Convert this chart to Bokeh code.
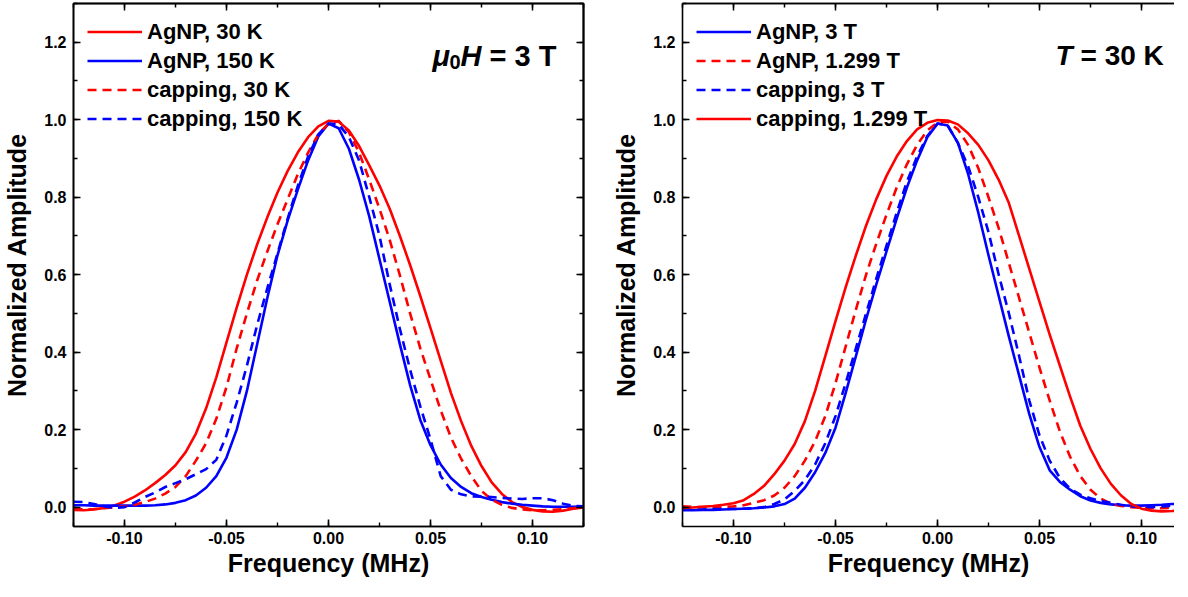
from bokeh.plotting import figure
from bokeh.models import (Range1d, LinearAxis, FixedTicker, NumeralTickFormatter,
                          Label, Legend, LegendItem)
from bokeh.layouts import row
from bokeh.embed import file_html
from bokeh.resources import INLINE

# ---------------- data ----------------
FREQ = [-0.125, -0.120, -0.115, -0.110, -0.105, -0.100, -0.095, -0.090, -0.085, -0.080,
        -0.075, -0.070, -0.065, -0.060, -0.055, -0.050, -0.045, -0.040, -0.035, -0.030,
        -0.025, -0.020, -0.015, -0.010, -0.005, 0.000, 0.005, 0.010, 0.015, 0.020,
        0.025, 0.030, 0.035, 0.040, 0.045, 0.050, 0.055, 0.060, 0.065, 0.070,
        0.075, 0.080, 0.085, 0.090, 0.095, 0.100, 0.105, 0.110, 0.115, 0.120, 0.125]

# panel a  (mu0H = 3 T)
A_AGNP_30K = [-0.007, -0.008, -0.006, -0.002, 0.004, 0.014, 0.027, 0.043, 0.062, 0.083,
              0.108, 0.142, 0.190, 0.255, 0.335, 0.425, 0.515, 0.600, 0.678, 0.748,
              0.812, 0.868, 0.916, 0.955, 0.983, 0.997, 0.995, 0.972, 0.932, 0.882,
              0.830, 0.770, 0.700, 0.625, 0.545, 0.462, 0.378, 0.295, 0.222, 0.158,
              0.106, 0.064, 0.034, 0.013, 0.000, -0.007, -0.011, -0.012, -0.009, -0.004, -0.001]
A_AGNP_150K = [0.005, 0.005, 0.004, 0.004, 0.004, 0.004, 0.004, 0.004, 0.005, 0.007,
               0.011, 0.018, 0.030, 0.050, 0.080, 0.128, 0.200, 0.300, 0.420, 0.540,
               0.650, 0.740, 0.820, 0.895, 0.957, 0.990, 0.978, 0.925, 0.845, 0.750,
               0.640, 0.530, 0.420, 0.315, 0.225, 0.160, 0.110, 0.075, 0.052, 0.036,
               0.026, 0.019, 0.013, 0.009, 0.006, 0.004, 0.002, 0.001, 0.001, 0.001, 0.002]
A_CAP_30K = [-0.005, -0.006, -0.005, -0.003, 0.000, 0.002, 0.006, 0.013, 0.022, 0.035,
             0.052, 0.080, 0.120, 0.165, 0.228, 0.310, 0.410, 0.500, 0.585, 0.660,
             0.730, 0.795, 0.860, 0.915, 0.962, 0.990, 0.997, 0.968, 0.915, 0.845,
             0.770, 0.690, 0.598, 0.500, 0.410, 0.330, 0.250, 0.180, 0.125, 0.080,
             0.042, 0.019, 0.006, -0.002, -0.006, -0.008, -0.008, -0.007, -0.005, -0.003, -0.001]
A_CAP_150K = [0.014, 0.013, 0.008, 0.002, -0.002, 0.000, 0.012, 0.026, 0.038, 0.052,
              0.062, 0.072, 0.085, 0.098, 0.122, 0.185, 0.270, 0.365, 0.470, 0.565,
              0.655, 0.745, 0.830, 0.905, 0.962, 0.990, 0.988, 0.955, 0.895, 0.800,
              0.700, 0.575, 0.460, 0.355, 0.260, 0.175, 0.080, 0.045, 0.033, 0.028,
              0.027, 0.026, 0.024, 0.022, 0.021, 0.023, 0.023, 0.018, 0.009, 0.003, 0.002]

# panel b  (T = 30 K)
B_AGNP_3T = [-0.008, -0.008, -0.007, -0.007, -0.006, -0.005, -0.004, -0.003, -0.001, 0.002,
             0.008, 0.022, 0.050, 0.090, 0.140, 0.205, 0.295, 0.390, 0.485, 0.575,
             0.660, 0.745, 0.825, 0.895, 0.955, 0.990, 0.985, 0.940, 0.860, 0.760,
             0.650, 0.545, 0.440, 0.340, 0.240, 0.155, 0.095, 0.065, 0.045, 0.028,
             0.017, 0.011, 0.007, 0.005, 0.004, 0.004, 0.005, 0.006, 0.008, 0.009, 0.010]
B_AGNP_1299T = [0.002, 0.001, 0.000, 0.000, 0.001, 0.002, 0.005, 0.011, 0.018, 0.030,
                0.050, 0.080, 0.120, 0.170, 0.235, 0.320, 0.415, 0.510, 0.600, 0.680,
                0.755, 0.825, 0.885, 0.935, 0.972, 0.993, 0.995, 0.975, 0.935, 0.875,
                0.800, 0.720, 0.630, 0.540, 0.450, 0.360, 0.275, 0.195, 0.130, 0.080,
                0.045, 0.022, 0.009, 0.003, 0.000, -0.002, -0.003, -0.003, -0.002, -0.001, 0.000]
B_CAP_3T = [-0.006, -0.006, -0.006, -0.005, -0.005, -0.005, -0.004, -0.003, 0.000, 0.008,
            0.020, 0.042, 0.070, 0.110, 0.165, 0.235, 0.320, 0.410, 0.500, 0.590,
            0.675, 0.760, 0.840, 0.905, 0.958, 0.990, 0.985, 0.940, 0.880, 0.800,
            0.710, 0.600, 0.500, 0.390, 0.275, 0.185, 0.120, 0.075, 0.048, 0.032,
            0.023, 0.016, 0.011, 0.006, 0.002, 0.000, 0.000, 0.002, 0.003, 0.003, 0.004]
B_CAP_1299T = [-0.002, -0.001, 0.001, 0.003, 0.006, 0.010, 0.018, 0.034, 0.055, 0.085,
               0.120, 0.163, 0.222, 0.300, 0.390, 0.480, 0.568, 0.650, 0.727, 0.795,
               0.855, 0.905, 0.945, 0.975, 0.992, 0.999, 0.998, 0.988, 0.965, 0.935,
               0.895, 0.845, 0.785, 0.700, 0.615, 0.530, 0.445, 0.365, 0.285, 0.210,
               0.150, 0.100, 0.060, 0.030, 0.008, -0.004, -0.009, -0.011, -0.010, -0.008, -0.006]

X_TICKS = [-0.10, -0.05, 0.0, 0.05, 0.10]
X_MINOR = [-0.125, -0.10, -0.075, -0.05, -0.025, 0.0, 0.025, 0.05, 0.075, 0.10, 0.125]
Y_TICKS = [0.0, 0.2, 0.4, 0.6, 0.8, 1.0, 1.2]
Y_MINOR = [-0.1, 0.0, 0.1, 0.2, 0.3, 0.4, 0.5, 0.6, 0.7, 0.8, 0.9, 1.0, 1.1, 1.2, 1.3]

RED = "#ff0000"
BLUE = "#0000ff"
FONT = "Liberation Sans"

# ---------------- layout constants ----------------
FRAME_H = 523
Y0, Y1 = -0.05, 1.3
TOP_BORDER = 3


def style_axis(ax):
    ax.axis_line_color = "black"
    ax.axis_line_width = 1.6
    ax.major_tick_line_color = "black"
    ax.major_tick_line_width = 1.6
    ax.minor_tick_line_color = "black"
    ax.minor_tick_line_width = 1.4
    ax.major_tick_in = 7
    ax.major_tick_out = 0
    ax.minor_tick_in = 4
    ax.minor_tick_out = 0
    ax.major_label_text_font = FONT
    ax.major_label_text_font_style = "bold"
    ax.major_label_text_font_size = "16px"
    ax.major_label_text_color = "black"
    ax.axis_label_text_font = FONT
    ax.axis_label_text_font_style = "bold"
    ax.axis_label_text_font_size = "25px"
    ax.axis_label_text_color = "black"


def mirror_axis(p, place, major, minor):
    # tick-only mirror axes (no labels): major positions drawn as long ticks,
    # minor positions as short ticks
    for pos, length in ((major, 7), (minor, 4)):
        ax = LinearAxis(ticker=FixedTicker(ticks=[], minor_ticks=pos))
        ax.axis_line_color = "black"
        ax.axis_line_width = 1.6
        ax.minor_tick_line_color = "black"
        ax.minor_tick_line_width = 1.5
        ax.minor_tick_in = length
        ax.minor_tick_out = 0
        ax.major_tick_in = 0
        ax.major_tick_out = 0
        ax.major_label_standoff = 0
        ax.axis_label_standoff = 0
        p.add_layout(ax, place)


def make_panel(x_end, frame_w, left_border, right_border, mirror_right):
    p = figure(frame_width=frame_w, frame_height=FRAME_H,
               x_range=Range1d(-0.125, x_end), y_range=Range1d(Y0, Y1),
               output_backend="svg", toolbar_location=None,
               min_border_left=left_border, min_border_right=right_border,
               min_border_top=TOP_BORDER, min_border_bottom=0)
    p.xgrid.visible = False
    p.ygrid.visible = False
    p.background_fill_color = "white"
    p.border_fill_color = "white"
    p.outline_line_color = "black" if mirror_right else None
    p.outline_line_width = 1.6

    xa = p.xaxis[0]
    xa.ticker = FixedTicker(ticks=X_TICKS, minor_ticks=X_MINOR)
    xa.formatter = NumeralTickFormatter(format="0.00")
    xa.axis_label = "Frequency (MHz)"
    style_axis(xa)
    xa.major_label_standoff = 5
    xa.axis_label_standoff = 2

    ya = p.yaxis[0]
    ya.ticker = FixedTicker(ticks=Y_TICKS, minor_ticks=Y_MINOR)
    ya.formatter = NumeralTickFormatter(format="0.0")
    ya.axis_label = "Normalized Amplitude"
    style_axis(ya)
    ya.major_label_standoff = 7
    ya.axis_label_standoff = 10

    mirror_axis(p, "above", X_TICKS, X_MINOR)
    if mirror_right:
        mirror_axis(p, "right", Y_TICKS, Y_MINOR)
    return p


def add_lines(p, series):
    items = []
    for label, ys, color, dash in series:
        r = p.line(FREQ, ys, line_color=color, line_width=2.6,
                   line_dash=dash, line_join="round")
        items.append(LegendItem(label=label, renderers=[r]))
    lg = Legend(items=items, location="top_left")
    lg.label_text_font = FONT
    lg.label_text_font_style = "bold"
    lg.label_text_font_size = "22px"
    lg.label_text_color = "black"
    lg.glyph_width = 55
    lg.glyph_height = 29
    lg.label_height = 29
    lg.label_standoff = 5
    lg.spacing = 0
    lg.padding = 0
    lg.margin = 14
    lg.background_fill_alpha = 0
    lg.border_line_alpha = 0
    p.add_layout(lg)


def add_text(p, frame_left, xscale, px, py, text, size, style="bold",
             align="left", baseline="alphabetic"):
    x = -0.125 + (px - frame_left) / xscale
    y = Y1 - (py - (8 + TOP_BORDER)) / (FRAME_H / (Y1 - Y0))
    p.add_layout(Label(x=x, y=y, text=text, text_font=FONT, text_font_style=style,
                       text_font_size=size, text_color="black",
                       text_align=align, text_baseline=baseline))


# ---------------- panel a ----------------
A_LEFT = 70
A_FRAME_W = 510
pa = make_panel(0.125, A_FRAME_W, A_LEFT, 12, True)
add_lines(pa, [
    ("AgNP, 30 K", A_AGNP_30K, RED, "solid"),
    ("AgNP, 150 K", A_AGNP_150K, BLUE, "solid"),
    ("capping, 30 K", A_CAP_30K, RED, "9 6"),
    ("capping, 150 K", A_CAP_150K, BLUE, "9 6"),
])
a_fl = 8 + A_LEFT
a_sc = A_FRAME_W / 0.25
add_text(pa, a_fl, a_sc, 22, 56, "a", "39px", align="center", baseline="middle")
add_text(pa, a_fl, a_sc, 437, 63, "μ", "29px", style="bold italic")
add_text(pa, a_fl, a_sc, 454, 69, "0", "20px")
add_text(pa, a_fl, a_sc, 465, 63, "H", "29px", style="bold italic")
add_text(pa, a_fl, a_sc, 494, 63, "= 3 T", "29px")

# ---------------- panel b ----------------
B_LEFT = 87
B_FRAME_W = 492
b_sc = a_sc
B_XEND = -0.125 + B_FRAME_W / b_sc
pb = make_panel(B_XEND, B_FRAME_W, B_LEFT, 0, False)
add_lines(pb, [
    ("AgNP, 3 T", B_AGNP_3T, BLUE, "solid"),
    ("AgNP, 1.299 T", B_AGNP_1299T, RED, "9 6"),
    ("capping, 3 T", B_CAP_3T, BLUE, "9 6"),
    ("capping, 1.299 T", B_CAP_1299T, RED, "solid"),
])
b_fl = 600 + B_LEFT
add_text(pb, b_fl, b_sc, 632, 56, "b", "39px", align="center", baseline="middle")
add_text(pb, b_fl, b_sc, 1060, 63, "T", "28px", style="bold italic")
add_text(pb, b_fl, b_sc, 1085, 63, "= 30 K", "28px")

layout = row(pa, pb)
open("out.html", "w").write(file_html(layout, INLINE))
